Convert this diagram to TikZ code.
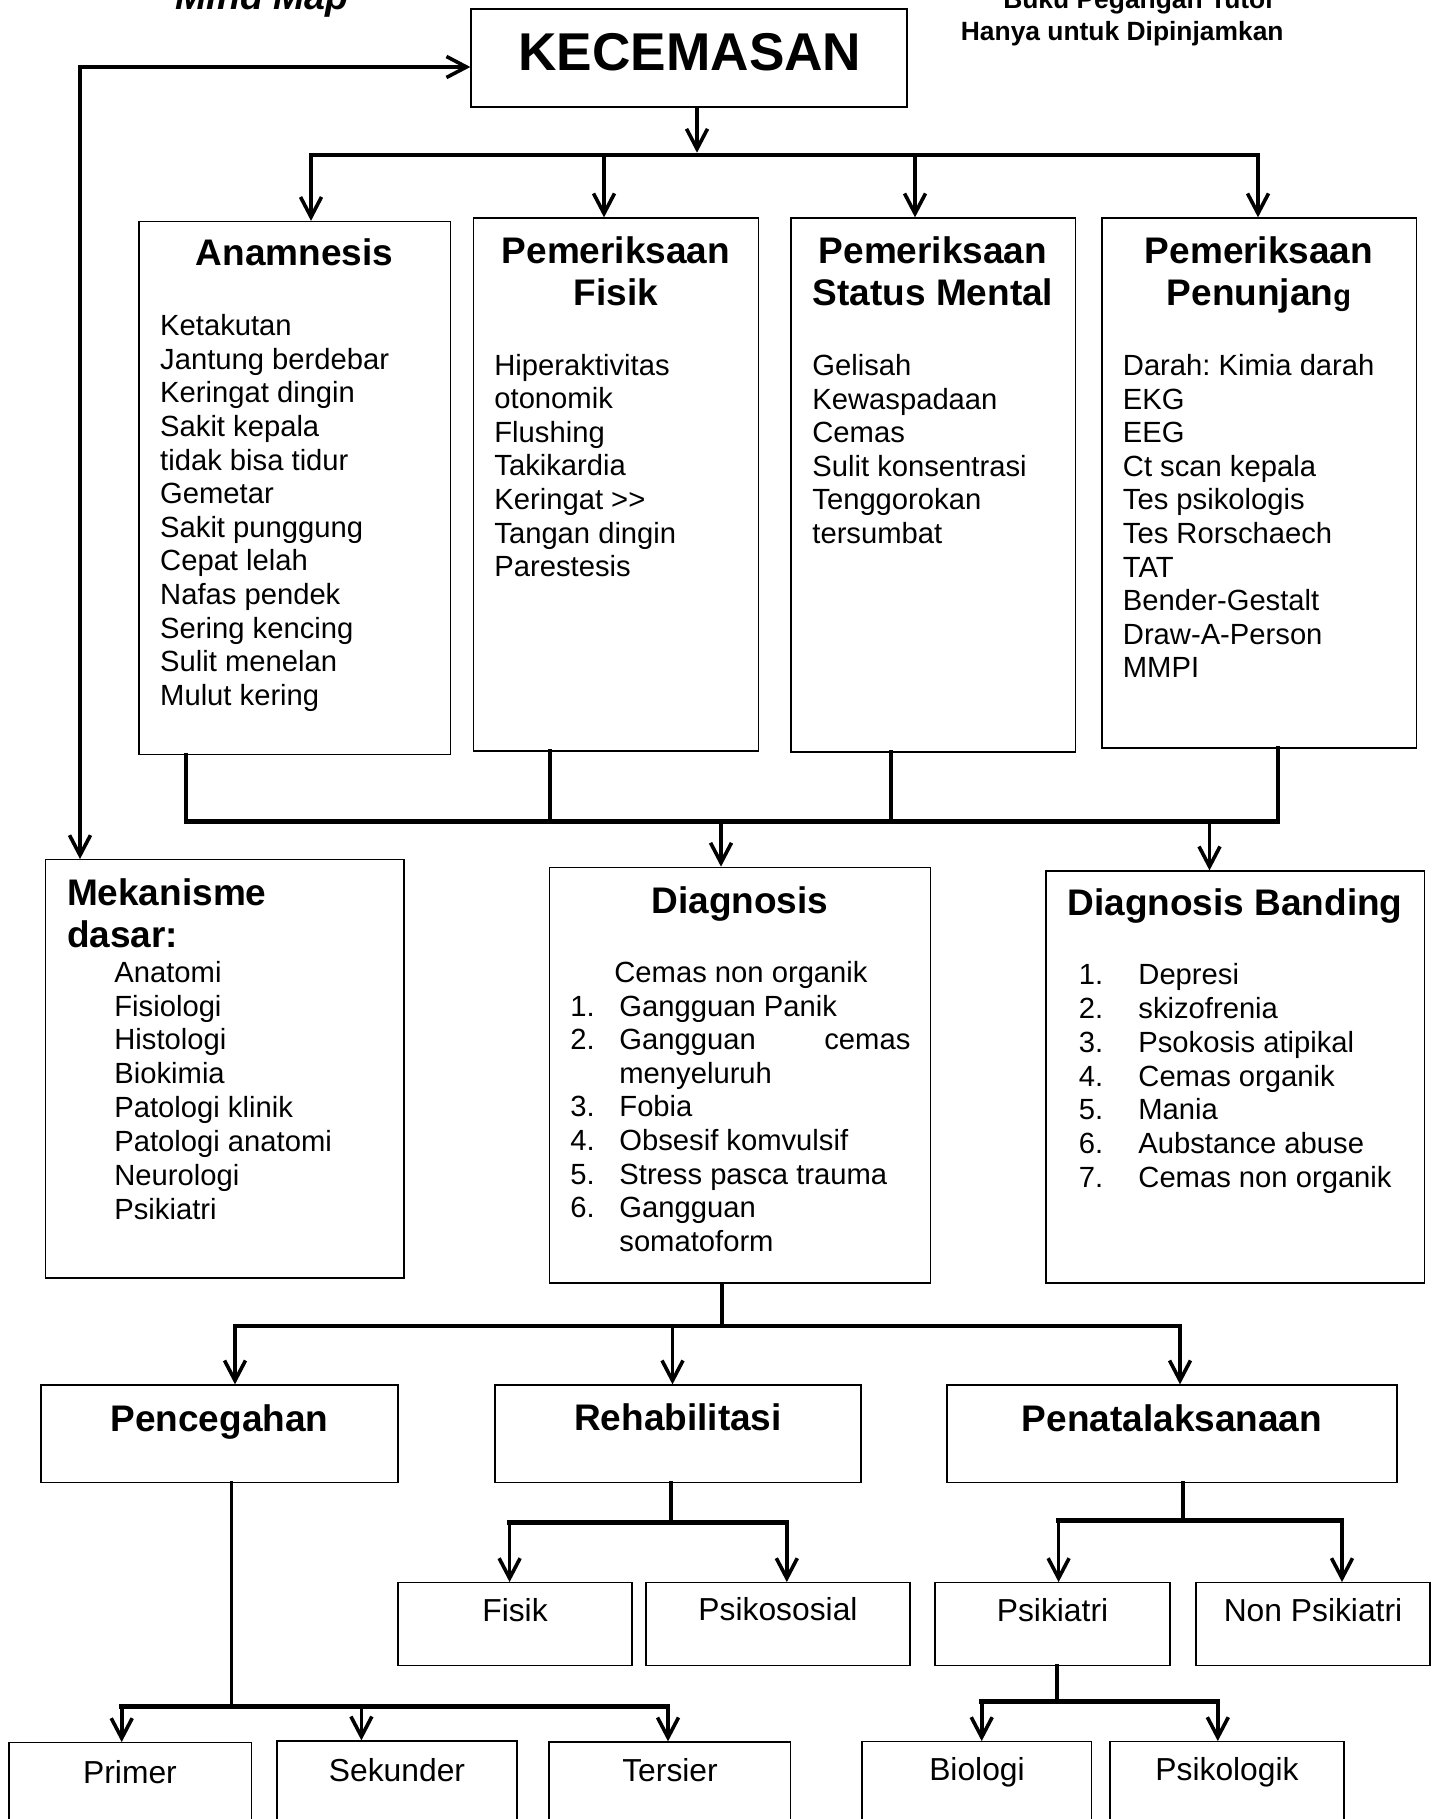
\documentclass[tikz,border=0pt]{standalone}
\usepackage{fontspec}
\setmainfont{Liberation Sans}
\usetikzlibrary{arrows.meta,fit}
\begin{document}
\frenchspacing
\begin{tikzpicture}[x=0.5pt,y=-0.5pt,
 boxst/.style={draw=black,line width=0.65pt,inner sep=0pt},
 barst/.style={line width=2.35pt,line cap=rect},
 connst/.style={line width=1.9pt,line cap=rect},
 arrst/.style={line width=1.8pt,-{Straight Barb[length=10pt,width=10.5pt,line width=1.8pt]}},
 body/.style={font=\fontsize{14.6}{16.8}\selectfont,inner sep=0pt,anchor=base west,align=left},
 head/.style={font=\fontsize{18.5}{21}\selectfont\bfseries,inner sep=0pt,anchor=base,align=center},
 lbl/.style={font=\fontsize{15.9}{18}\selectfont,inner sep=0pt,anchor=base},
 hdr/.style={font=\fontsize{13.2}{15}\selectfont\bfseries,inner sep=0pt,anchor=base east},
]
\useasboundingbox (0,0) rectangle (1434,1819);
\clip (0,0) rectangle (1434,1819);
\fill[white] (0,0) rectangle (1434,1819);

% ---------- boxes ----------
\node[boxst,fit={(471,9) (907,107)}] (kec) {};
\node[boxst,fit={(139,221.5) (450.5,754.6)}] (anam) {};
\node[boxst,fit={(473.7,218) (758.6,751)}] (pf) {};
\node[boxst,fit={(791,218) (1075.5,752)}] (sm) {};
\node[boxst,fit={(1102,218) (1416.5,748)}] (pp) {};
\node[boxst,fit={(45.5,859.7) (404,1278)}] (mek) {};
\node[boxst,fit={(549.6,867.3) (930.4,1283)}] (diag) {};
\node[boxst,fit={(1046,871) (1424.5,1283)}] (db) {};
\node[boxst,fit={(41,1385) (398,1482.7)}] (pen) {};
\node[boxst,fit={(495,1385) (861,1482.7)}] (reh) {};
\node[boxst,fit={(947,1385) (1397,1482.7)}] (pnt) {};
\node[boxst,fit={(398,1582.7) (632,1665.3)}] (fis) {};
\node[boxst,fit={(646,1582.7) (910,1665.3)}] (psos) {};
\node[boxst,fit={(935,1582.7) (1170,1665.3)}] (psik) {};
\node[boxst,fit={(1196,1582.7) (1430,1665.3)}] (npsik) {};
\node[boxst,fit={(9,1742.7) (251.6,1840)}] (prim) {};
\node[boxst,fit={(277,1741) (517,1840)}] (sek) {};
\node[boxst,fit={(549,1742) (790.5,1840)}] (ter) {};
\node[boxst,fit={(862,1741.7) (1091.5,1840)}] (bio) {};
\node[boxst,fit={(1110,1741.7) (1344,1840)}] (psiko) {};

% ---------- texts (multi-line nodes: base = last line) ----------
\node[font=\fontsize{18.8}{21}\selectfont\bfseries\itshape,inner sep=0pt,anchor=base west] (mm) at (175,9.5) {Mind Map};
\node[hdr] (buku) at (1276,8.5) {Buku Pegangan Tutor};
\node[hdr] (hanya) at (1284,40.7) {Hanya untuk Dipinjamkan};
\node[font=\fontsize{26.6}{30}\selectfont\bfseries,inner sep=0pt,anchor=base] (kecT) at (690,70.5) {KECEMASAN};

\node[head] (anamH) at (294.7,265) {Anamnesis};
\node[head] (pfH) at (616,305.6) {Pemeriksaan\\Fisik};
\node[head] (smH) at (933,305.6) {Pemeriksaan\\Status Mental};
\node[head] (ppH) at (1259,305.6) {Pemeriksaan\\Penunjan{\fontsize{14.5}{16}\selectfont g}};

\node[body] (anamL) at (159.8,705.3) {Ketakutan\\Jantung berdebar\\Keringat dingin\\Sakit kepala\\tidak bisa tidur\\Gemetar\\Sakit punggung\\Cepat lelah\\Nafas pendek\\Sering kencing\\Sulit menelan\\Mulut kering};
\node[body] (pfL) at (494,576.6) {Hiperaktivitas\\otonomik\\Flushing\\Takikardia\\Keringat >{}>\\Tangan dingin\\Parestesis};
\node[body] (smL) at (812,543.4) {Gelisah\\Kewaspadaan\\Cemas\\Sulit konsentrasi\\Tenggorokan\\tersumbat};
\node[body] (ppL) at (1122.5,677.8) {Darah: Kimia darah\\EKG\\EEG\\Ct scan kepala\\Tes psikologis\\Tes Rorschaech\\TAT\\Bender-Gestalt\\Draw-A-Person\\MMPI};

\node[head,anchor=base west,align=left] (mekH) at (66.6,947.6) {Mekanisme\\dasar:};
\node[body,font=\fontsize{14.6}{16.95}\selectfont] (mekL) at (114,1219.4) {Anatomi\\Fisiologi\\Histologi\\Biokimia\\Patologi klinik\\Patologi anatomi\\Neurologi\\Psikiatri};

\node[head] (diagH) at (740,913) {Diagnosis};
\node[body] (diagC) at (614,982.7) {Cemas non organik};
\node[body] (diagN) at (570,1217.6) {1.\\2.\\\mbox{}\\3.\\4.\\5.\\6.};
\node[body] (diagI) at (619,1251.2) {Gangguan Panik\\\hbox to 145.5pt{Gangguan\hfill cemas}\\menyeluruh\\Fobia\\Obsesif komvulsif\\Stress pasca trauma\\Gangguan\\somatoform};

\node[head] (dbH) at (1235,915) {Diagnosis Banding};
\node[body,font=\fontsize{14.6}{16.95}\selectfont] (dbN) at (1078.4,1187.7) {1.\\2.\\3.\\4.\\5.\\6.\\7.};
\node[body,font=\fontsize{14.6}{16.95}\selectfont] (dbI) at (1138,1187.7) {Depresi\\skizofrenia\\Psokosis atipikal\\Cemas organik\\Mania\\Aubstance abuse\\Cemas non organik};

\node[head] (penH) at (219.5,1431.7) {Pencegahan};
\node[head] (rehH) at (678,1430) {Rehabilitasi};
\node[head] (pntH) at (1172,1431.7) {Penatalaksanaan};

\node[lbl] (fisT) at (515,1621.7) {Fisik};
\node[lbl] (psosT) at (778,1620.7) {Psikososial};
\node[lbl] (psikT) at (1052.5,1621.7) {Psikiatri};
\node[lbl] (npsikT) at (1313,1621.7) {Non Psikiatri};
\node[lbl] (primT) at (130,1783.3) {Primer};
\node[lbl] (sekT) at (397,1781.7) {Sekunder};
\node[lbl] (terT) at (670,1781.7) {Tersier};
\node[lbl] (bioT) at (977,1780) {Biologi};
\node[lbl] (psikoT) at (1227,1780) {Psikologik};

% ---------- connectors ----------
% feedback loop
\coordinate (fbh) at (78.2,67);
\coordinate (fbv) at (80,64.7);
\draw[arrst,line width=2.35pt] (fbh) -- (kec.west |- fbh);
\draw[arrst] (fbv) -- (mek.north -| fbv);

% KECEMASAN to first bus
\coordinate (k1) at (697,152.7);
\draw[arrst] (kec.south -| k1) -- (k1);
\coordinate (b1L) at (311,155);
\coordinate (b1R) at (1258,155);
\draw[barst] (b1L) -- (b1R);
\coordinate (a1) at (311,155);
\coordinate (a2) at (604,155);
\coordinate (a3) at (915,155);
\coordinate (a4) at (1258,155);
\draw[arrst] (a1) -- (anam.north -| a1);
\draw[arrst] (a2) -- (pf.north -| a2);
\draw[arrst] (a3) -- (sm.north -| a3);
\draw[arrst] (a4) -- (pp.north -| a4);

% second bus
\coordinate (c1) at (186,821.5);
\coordinate (c2) at (550,821.5);
\coordinate (c3) at (891,821.5);
\coordinate (c4) at (1278,821.5);
\draw[barst] (anam.south -| c1) -- (c1);
\draw[barst] (pf.south -| c2) -- (c2);
\draw[barst] (sm.south -| c3) -- (c3);
\draw[barst] (pp.south -| c4) -- (c4);
\draw[barst] (c1) -- (c4);
\coordinate (d1) at (721,821.5);
\coordinate (d2) at (1209.5,821.5);
\draw[arrst] (d1) -- (diag.north -| d1);
\draw[arrst] (d2) -- (db.north -| d2);

% third bus
\coordinate (e0) at (722,1326);
\coordinate (e1) at (235,1326);
\coordinate (e2) at (672.5,1326);
\coordinate (e3) at (1180,1326);
\draw[connst] (diag.south -| e0) -- (e0);
\draw[barst] (e1) -- (e3);
\draw[arrst] (e1) -- (pen.north -| e1);
\draw[arrst] (e2) -- (reh.north -| e2);
\draw[arrst] (e3) -- (pnt.north -| e3);

% Rehabilitasi bus
\coordinate (r0) at (670.6,1522.7);
\coordinate (r1) at (509.6,1522.7);
\coordinate (r2) at (786.8,1522.7);
\draw[connst] (reh.south -| r0) -- (r0);
\draw[barst] (r1) -- (r2);
\draw[arrst] (r1) -- (fis.north -| r1);
\draw[arrst] (r2) -- (psos.north -| r2);

% Penatalaksanaan bus
\coordinate (p0) at (1183,1520.7);
\coordinate (p1) at (1058.6,1520.7);
\coordinate (p2) at (1342,1520.7);
\draw[connst] (pnt.south -| p0) -- (p0);
\draw[barst] (p1) -- (p2);
\draw[arrst] (p1) -- (psik.north -| p1);
\draw[arrst] (p2) -- (npsik.north -| p2);

% Pencegahan bus
\coordinate (q0) at (231.5,1706.7);
\coordinate (q1) at (121.7,1706.7);
\coordinate (q2) at (361.4,1706.7);
\coordinate (q3) at (668,1706.7);
\draw[connst] (pen.south -| q0) -- (q0);
\draw[barst] (q1) -- (q3);
\draw[arrst] (q1) -- (prim.north -| q1);
\draw[arrst] (q2) -- (sek.north -| q2);
\draw[arrst] (q3) -- (ter.north -| q3);

% Psikiatri bus
\coordinate (s0) at (1056.7,1701.7);
\coordinate (s1) at (981.7,1701.7);
\coordinate (s2) at (1217.8,1701.7);
\draw[connst] (psik.south -| s0) -- (s0);
\draw[barst] (s1) -- (s2);
\draw[arrst] (s1) -- (bio.north -| s1);
\draw[arrst] (s2) -- (psiko.north -| s2);
\end{tikzpicture}
\end{document}
